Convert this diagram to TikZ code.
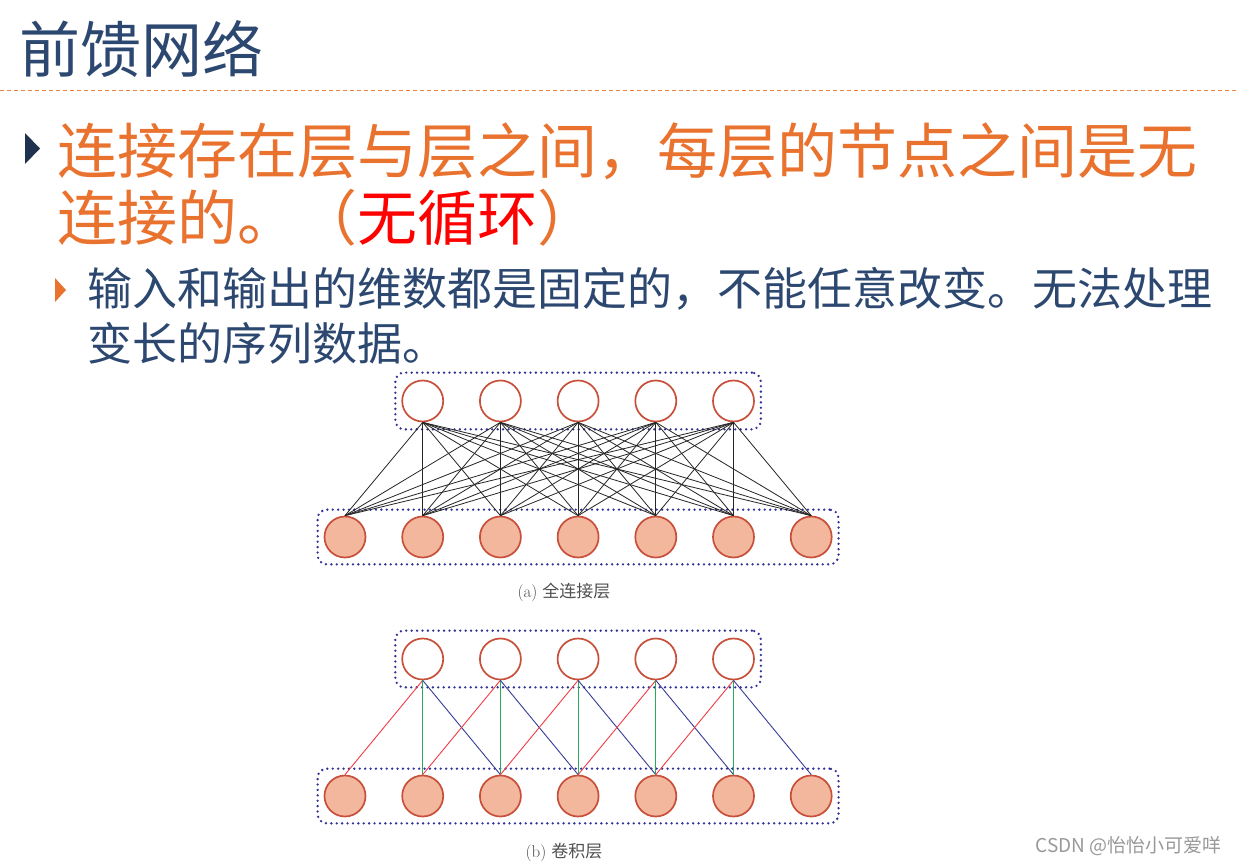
\documentclass[tikz,border=0pt]{standalone}
\usepackage{fontspec}
\newfontfamily\cjk{Noto Sans CJK SC}
\usetikzlibrary{fit}
\definecolor{titleblue}{RGB}{44,72,112}
\definecolor{navy}{RGB}{30,50,80}
\definecolor{orangetxt}{RGB}{232,114,46}
\definecolor{dashorange}{RGB}{236,130,60}
\definecolor{nodeedge}{RGB}{200,80,58}
\definecolor{nodefill}{RGB}{243,183,158}
\definecolor{boxblue}{RGB}{50,50,150}
\definecolor{cred}{RGB}{240,60,70}
\definecolor{cgreen}{RGB}{40,170,90}
\definecolor{cblue}{RGB}{55,60,150}
\definecolor{capgray}{RGB}{80,80,80}
\tikzset{
  txt/.style={inner sep=0pt, anchor=base west},
  hidden/.style={circle, draw=nodeedge, line width=1.7pt, fill=white, minimum size=41pt, inner sep=0pt},
  inp/.style={circle, draw=nodeedge, line width=1.7pt, fill=nodefill, minimum size=41pt, inner sep=0pt},
  layerbox/.style={draw=boxblue, line width=2.6pt, dash pattern=on 0pt off 5.4pt, line cap=round, rounded corners=9pt},
  full/.style={draw=black!85, line width=0.8pt},
  redl/.style={draw=cred, line width=0.9pt},
  greenl/.style={draw=cgreen, line width=1pt},
  bluel/.style={draw=cblue, line width=0.9pt},
  caption/.style={inner sep=0pt, anchor=base, text=capgray, font=\fontsize{17}{20}\selectfont},
}
\begin{document}
\begin{tikzpicture}[x=1pt,y=-1pt]
\useasboundingbox (0,0) rectangle (1237,864);
\fill[white] (0,0) rectangle (1237,864);
% title
\node[txt, text=titleblue, font=\cjk\fontsize{61}{63}\selectfont] (title) at (19,73) {前馈网络};
\draw[dashorange, line width=0.9pt, dash pattern=on 4pt off 3pt] (0,90) -- (1237,90);
% bullet 1
\fill[navy] (25,133) -- (40,148.5) -- (25,164) -- cycle;
\node[txt, text=orangetxt, font=\cjk\fontsize{60}{62}\selectfont] (l1) at (57,174) {连接存在层与层之间，每层的节点之间是无};
\node[txt, text=orangetxt, font=\cjk\fontsize{60}{62}\selectfont] (l2) at (57,240) {连接的。（\textcolor{red}{无循环}）};
% bullet 2
\fill[orangetxt] (55,278) -- (66,290) -- (55,302) -- cycle;
\node[txt, text=titleblue, font=\cjk\fontsize{45}{47}\selectfont] (s1) at (87,305) {输入和输出的维数都是固定的，不能任意改变。无法处理};
\node[txt, text=titleblue, font=\cjk\fontsize{45}{47}\selectfont] (s2) at (87,360) {变长的序列数据。};
% (a) fully connected
\foreach \i in {1,...,5} {
  \node[hidden] (at\i) at ({345+77.7*\i},401) {};
}
\foreach \j in {1,...,7} {
  \node[inp] (ab\j) at ({345+77.7*(\j-1)},537) {};
}
\node[layerbox, fit=(at1)(at5), inner xsep=6pt, inner ysep=7pt] (aboxt) {};
\node[layerbox, fit=(ab1)(ab7), inner xsep=6pt, inner ysep=6pt] (aboxb) {};
\foreach \i in {1,...,5} {
  \foreach \j in {1,...,7} {
    \draw[full] (at\i.south) -- (ab\j.north);
  }
}
\node[caption] (capa) at (564,597) {(a) {\cjk 全连接层}};
% (b) convolutional
\foreach \i in {1,...,5} {
  \node[hidden] (bt\i) at ({345+77.7*\i},659) {};
}
\foreach \j in {1,...,7} {
  \node[inp] (bb\j) at ({345+77.7*(\j-1)},796) {};
}
\node[layerbox, fit=(bt1)(bt5), inner xsep=6pt, inner ysep=7pt] (bboxt) {};
\node[layerbox, fit=(bb1)(bb7), inner xsep=6pt, inner ysep=6pt] (bboxb) {};
\foreach \i [evaluate=\i as \k using int(\i+1), evaluate=\i as \m using int(\i+2)] in {1,...,5} {
  \draw[redl] (bt\i.south) -- (bb\i.north);
  \draw[greenl] (bt\i.south) -- (bb\k.north);
  \draw[bluel] (bt\i.south) -- (bb\m.north);
}
\node[caption] (capb) at (564,857) {(b) {\cjk 卷积层}};
% watermark
\node[inner sep=0pt, anchor=base east, text=black!40, font=\cjk\fontsize{19}{21}\selectfont] (wm) at (1222,852) {CSDN @怡怡小可爱咩};
\end{tikzpicture}
\end{document}
